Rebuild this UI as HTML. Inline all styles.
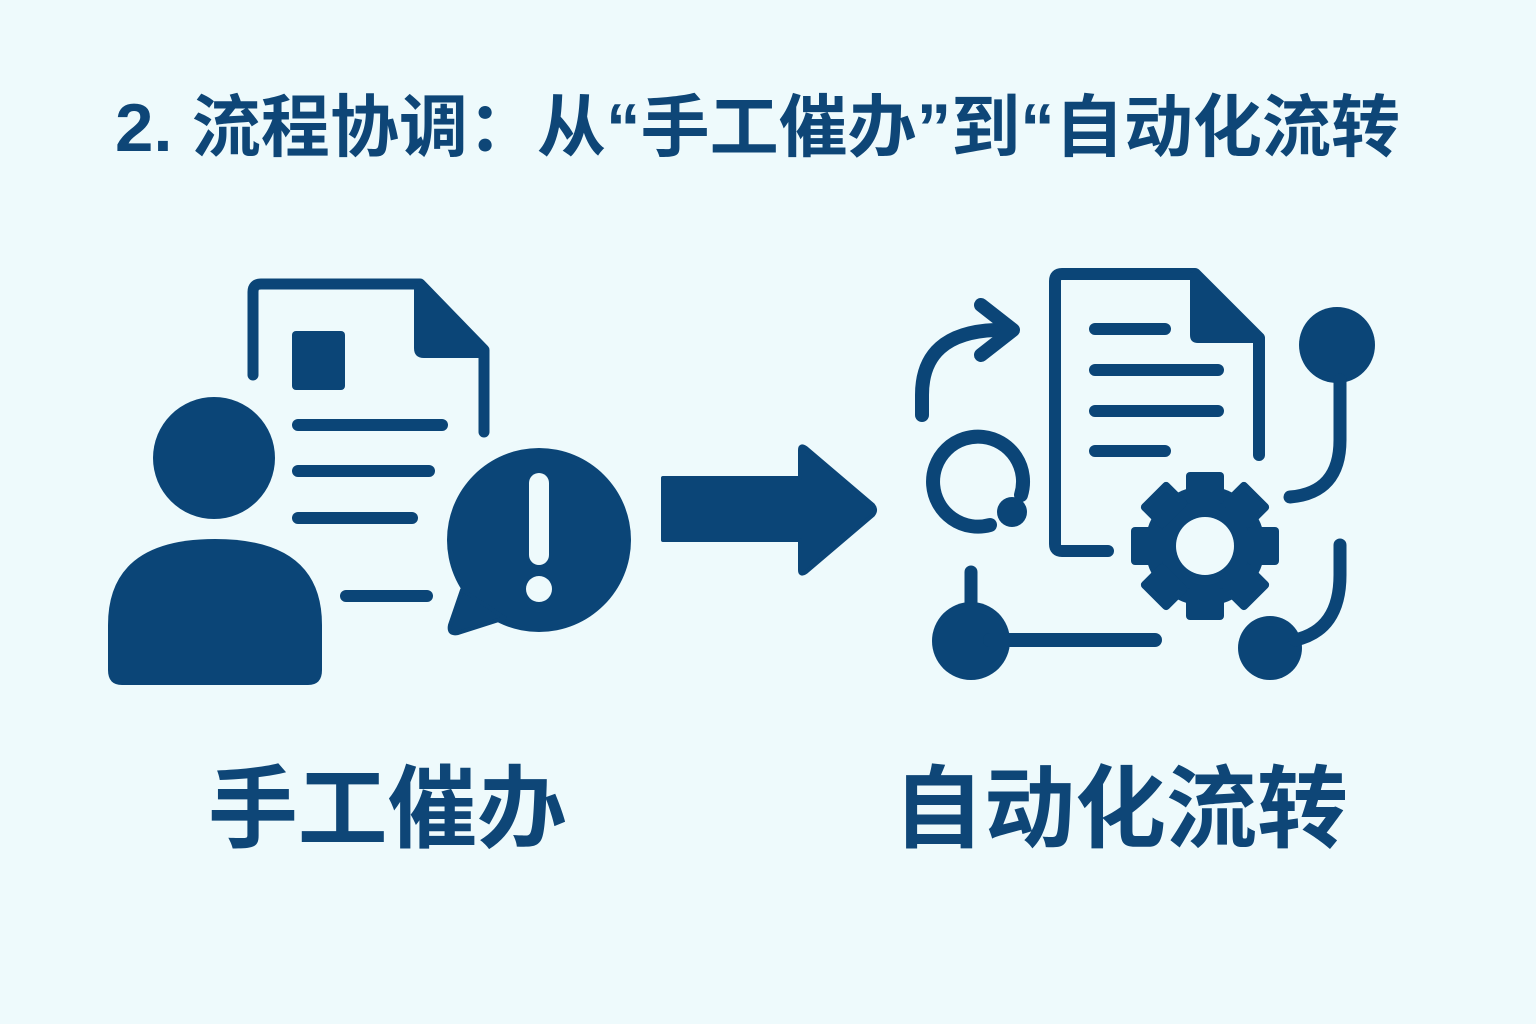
<!DOCTYPE html>
<html><head><meta charset="utf-8"><style>
html,body{margin:0;padding:0;background:#eefafc;}
svg{display:block}
text{font-family:"Liberation Sans","Noto Sans CJK SC",sans-serif;font-weight:bold;fill:#0e4677}
</style></head><body>
<svg width="1536" height="1024" viewBox="0 0 1536 1024" xmlns="http://www.w3.org/2000/svg">
<rect width="1536" height="1024" fill="#eefafc"/>
<text x="115" y="151" font-size="68" textLength="1285" lengthAdjust="spacingAndGlyphs">2. 流程协调：从“手工催办”到“自动化流转</text>

<g fill="#0b4577" stroke="#0b4577" stroke-linecap="round" stroke-linejoin="round">
<path d="M253 375 V292 Q253 284 261 284 H420 L484 350 V432" fill="none" stroke-width="11"/>
<path d="M416 284 L484 350 V356 H424 Q416 356 416 348 Z" stroke-width="4"/>
<rect x="292" y="331" width="53" height="59" rx="4" stroke="none"/>
<g stroke-width="12" fill="none">
<line x1="298" y1="425" x2="442" y2="425"/>
<line x1="298" y1="471" x2="429" y2="471"/>
<line x1="298" y1="518" x2="412" y2="518"/>
<line x1="346" y1="596" x2="427" y2="596"/>
</g>
<circle cx="214" cy="458" r="61" stroke="none"/>
<path d="M108 670 V625 Q108 539 215 539 Q322 539 322 625 V670 Q322 685 308 685 H122 Q108 685 108 670 Z" stroke="none"/>
<circle cx="539" cy="540" r="92" stroke="none"/>
<path d="M462 590 L450 625 Q448 635 458 633 L505 618 Z" stroke-width="4"/>
<line x1="539" y1="483" x2="539" y2="555" stroke="#eefafc" stroke-width="20"/>
<circle cx="539" cy="589" r="13" fill="#eefafc" stroke="none"/>
<path d="M663 478 H800 V450 Q800 444 806 448 L873 505 Q877 510 873 515 L806 572 Q800 576 800 570 V540 H663 Z" stroke-width="4"/>

<path d="M1108 551 H1062 Q1055 551 1055 544 V281 Q1055 274 1062 274 H1195 L1259 338 V455" fill="none" stroke-width="12"/>
<path d="M1192 274 L1259 338 V341 H1198 Q1192 341 1192 335 Z" stroke-width="4"/>
<g stroke-width="12" fill="none">
<line x1="1095" y1="329" x2="1165" y2="329"/>
<line x1="1095" y1="370" x2="1218" y2="370"/>
<line x1="1095" y1="411" x2="1218" y2="411"/>
<line x1="1095" y1="451" x2="1165" y2="451"/>
</g>
<g transform="translate(1205,546)">
<circle r="60" stroke="none"/>
<g stroke="none">
<rect x="-19" y="-74" width="38" height="32" rx="4" transform="rotate(0)"/>
<rect x="-19" y="-74" width="38" height="32" rx="4" transform="rotate(45)"/>
<rect x="-19" y="-74" width="38" height="32" rx="4" transform="rotate(90)"/>
<rect x="-19" y="-74" width="38" height="32" rx="4" transform="rotate(135)"/>
<rect x="-19" y="-74" width="38" height="32" rx="4" transform="rotate(180)"/>
<rect x="-19" y="-74" width="38" height="32" rx="4" transform="rotate(225)"/>
<rect x="-19" y="-74" width="38" height="32" rx="4" transform="rotate(270)"/>
<rect x="-19" y="-74" width="38" height="32" rx="4" transform="rotate(315)"/>
</g>
<circle r="29" fill="#eefafc" stroke="none"/>
</g>
<path d="M922 415 V395 Q922 333 995 330" fill="none" stroke-width="14"/>
<path d="M981 305 L1013 330 L981 355" fill="none" stroke-width="14"/>
<path d="M990 525 A45 45 0 1 1 1021 495" fill="none" stroke-width="14"/>
<circle cx="1012" cy="512" r="15" stroke="none"/>
<circle cx="1337" cy="345" r="38" stroke="none"/>
<path d="M1340 380 V440 Q1340 493 1290 497" fill="none" stroke-width="13"/>
<line x1="971" y1="572" x2="971" y2="630" stroke-width="13"/>
<circle cx="971" cy="641" r="39" stroke="none"/>
<line x1="990" y1="640" x2="1155" y2="640" stroke-width="14"/>
<circle cx="1270" cy="648" r="32" stroke="none"/>
<path d="M1340 545 V575 Q1340 630 1295 640" fill="none" stroke-width="13"/>
</g>

<text x="208" y="840" font-size="90" textLength="359" lengthAdjust="spacingAndGlyphs">手工催办</text>
<text x="893" y="840" font-size="90" textLength="455" lengthAdjust="spacingAndGlyphs">自动化流转</text>
</svg>
</body></html>
